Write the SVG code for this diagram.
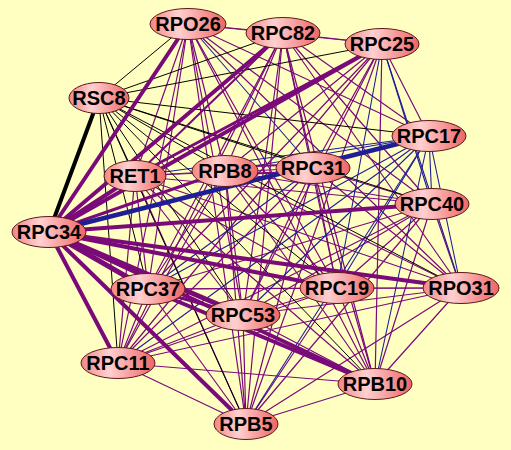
<svg xmlns="http://www.w3.org/2000/svg" width="511" height="450" viewBox="0 0 511 450">
<defs>
<linearGradient id="ng" x1="0" y1="0" x2="1" y2="0">
<stop offset="0" stop-color="#F28686"/>
<stop offset="0.38" stop-color="#FFD0D0"/>
<stop offset="1" stop-color="#F06464"/>
</linearGradient>
<style>
.p{stroke:#7A0A7A;stroke-width:1.2}
.b{stroke:#1E1E96;stroke-width:1.1}
.k{stroke:#000;stroke-width:1}
.n ellipse{fill:url(#ng);stroke:#5A1A1A;stroke-width:1}
.n text{font-family:"Liberation Sans",Arial,sans-serif;font-weight:bold;font-size:20px;text-anchor:middle;fill:#000}
</style>
</defs>
<rect width="511" height="450" fill="#FFFFC2"/>
<g id="connectors" fill="none" stroke-linecap="round">
<line class="p" x1="188" y1="24" x2="283" y2="33"/>
<line class="p" x1="188" y1="24" x2="382" y2="44"/>
<line class="p" x1="188" y1="24" x2="135" y2="176"/>
<line class="p" x1="188" y1="24" x2="225" y2="171"/>
<line class="p" x1="188" y1="24" x2="432" y2="204"/>
<line class="p" x1="188" y1="24" x2="148" y2="289"/>
<line class="p" x1="188" y1="24" x2="337" y2="288"/>
<line class="p" x1="188" y1="24" x2="461" y2="288"/>
<line class="p" x1="188" y1="24" x2="243" y2="315"/>
<line class="p" x1="188" y1="24" x2="118" y2="363"/>
<line class="p" x1="188" y1="24" x2="375" y2="384"/>
<line class="p" x1="188" y1="24" x2="246" y2="424"/>
<line class="p" x1="283" y1="33" x2="382" y2="44"/>
<line class="p" x1="283" y1="33" x2="225" y2="171"/>
<line class="p" x1="283" y1="33" x2="313" y2="168"/>
<line class="p" x1="283" y1="33" x2="432" y2="204"/>
<line class="p" x1="283" y1="33" x2="148" y2="289"/>
<line class="p" x1="283" y1="33" x2="337" y2="288"/>
<line class="p" x1="283" y1="33" x2="461" y2="288"/>
<line class="p" x1="283" y1="33" x2="243" y2="315"/>
<line class="p" x1="283" y1="33" x2="118" y2="363"/>
<line class="p" x1="283" y1="33" x2="375" y2="384"/>
<line class="p" x1="283" y1="33" x2="246" y2="424"/>
<line class="p" x1="382" y1="44" x2="225" y2="171"/>
<line class="p" x1="382" y1="44" x2="313" y2="168"/>
<line class="p" x1="382" y1="44" x2="148" y2="289"/>
<line class="p" x1="382" y1="44" x2="243" y2="315"/>
<line class="p" x1="382" y1="44" x2="118" y2="363"/>
<line class="p" x1="382" y1="44" x2="375" y2="384"/>
<line class="p" x1="382" y1="44" x2="246" y2="424"/>
<line class="p" x1="135" y1="176" x2="225" y2="171"/>
<line class="p" x1="135" y1="176" x2="313" y2="168"/>
<line class="p" x1="135" y1="176" x2="432" y2="204"/>
<line class="p" x1="135" y1="176" x2="148" y2="289"/>
<line class="p" x1="135" y1="176" x2="337" y2="288"/>
<line class="p" x1="135" y1="176" x2="461" y2="288"/>
<line class="p" x1="135" y1="176" x2="243" y2="315"/>
<line class="p" x1="135" y1="176" x2="118" y2="363"/>
<line class="p" x1="135" y1="176" x2="375" y2="384"/>
<line class="p" x1="135" y1="176" x2="246" y2="424"/>
<line class="p" x1="225" y1="171" x2="432" y2="204"/>
<line class="p" x1="225" y1="171" x2="148" y2="289"/>
<line class="p" x1="225" y1="171" x2="337" y2="288"/>
<line class="p" x1="225" y1="171" x2="461" y2="288"/>
<line class="p" x1="225" y1="171" x2="243" y2="315"/>
<line class="p" x1="225" y1="171" x2="118" y2="363"/>
<line class="p" x1="225" y1="171" x2="375" y2="384"/>
<line class="p" x1="225" y1="171" x2="246" y2="424"/>
<line class="p" x1="313" y1="168" x2="432" y2="204"/>
<line class="p" x1="313" y1="168" x2="337" y2="288"/>
<line class="p" x1="313" y1="168" x2="461" y2="288"/>
<line class="p" x1="313" y1="168" x2="243" y2="315"/>
<line class="p" x1="313" y1="168" x2="118" y2="363"/>
<line class="p" x1="313" y1="168" x2="375" y2="384"/>
<line class="p" x1="313" y1="168" x2="246" y2="424"/>
<line class="p" x1="432" y1="204" x2="148" y2="289"/>
<line class="p" x1="432" y1="204" x2="337" y2="288"/>
<line class="p" x1="432" y1="204" x2="461" y2="288"/>
<line class="p" x1="432" y1="204" x2="243" y2="315"/>
<line class="p" x1="432" y1="204" x2="118" y2="363"/>
<line class="p" x1="432" y1="204" x2="375" y2="384"/>
<line class="p" x1="432" y1="204" x2="246" y2="424"/>
<line class="p" x1="148" y1="289" x2="337" y2="288"/>
<line class="p" x1="148" y1="289" x2="461" y2="288"/>
<line class="p" x1="148" y1="289" x2="118" y2="363"/>
<line class="p" x1="148" y1="289" x2="246" y2="424"/>
<line class="p" x1="337" y1="288" x2="461" y2="288"/>
<line class="p" x1="337" y1="288" x2="243" y2="315"/>
<line class="p" x1="337" y1="288" x2="118" y2="363"/>
<line class="p" x1="337" y1="288" x2="375" y2="384"/>
<line class="p" x1="337" y1="288" x2="246" y2="424"/>
<line class="p" x1="461" y1="288" x2="243" y2="315"/>
<line class="p" x1="461" y1="288" x2="118" y2="363"/>
<line class="p" x1="461" y1="288" x2="375" y2="384"/>
<line class="p" x1="461" y1="288" x2="246" y2="424"/>
<line class="p" x1="243" y1="315" x2="118" y2="363"/>
<line class="p" x1="243" y1="315" x2="375" y2="384"/>
<line class="p" x1="243" y1="315" x2="246" y2="424"/>
<line class="p" x1="118" y1="363" x2="375" y2="384"/>
<line class="p" x1="118" y1="363" x2="246" y2="424"/>
<line class="p" x1="375" y1="384" x2="246" y2="424"/>
<line class="p" x1="429" y1="136" x2="188" y2="24"/>
<line class="p" x1="429" y1="136" x2="283" y2="33"/>
<line class="p" x1="429" y1="136" x2="382" y2="44"/>
<line class="b" x1="188" y1="24" x2="313" y2="168"/>
<line class="b" x1="382" y1="44" x2="432" y2="204"/>
<line class="b" x1="382" y1="44" x2="337" y2="288"/>
<line class="b" x1="382" y1="44" x2="461" y2="288"/>
<line class="b" x1="148" y1="289" x2="313" y2="168"/>
<line class="b" x1="429" y1="136" x2="135" y2="176"/>
<line class="b" x1="429" y1="136" x2="225" y2="171"/>
<line class="b" x1="429" y1="136" x2="432" y2="204"/>
<line class="b" x1="429" y1="136" x2="148" y2="289"/>
<line class="b" x1="429" y1="136" x2="337" y2="288"/>
<line class="b" x1="429" y1="136" x2="461" y2="288"/>
<line class="b" x1="429" y1="136" x2="243" y2="315"/>
<line class="b" x1="429" y1="136" x2="118" y2="363"/>
<line class="b" x1="429" y1="136" x2="375" y2="384"/>
<line class="b" x1="429" y1="136" x2="246" y2="424"/>
<line class="k" x1="99" y1="98" x2="188" y2="24"/>
<line class="k" x1="99" y1="98" x2="283" y2="33"/>
<line class="k" x1="99" y1="98" x2="382" y2="44"/>
<line class="k" x1="99" y1="98" x2="429" y2="136"/>
<line class="k" x1="99" y1="98" x2="135" y2="176"/>
<line class="k" x1="99" y1="98" x2="225" y2="171"/>
<line class="k" x1="99" y1="98" x2="313" y2="168"/>
<line class="k" x1="99" y1="98" x2="432" y2="204"/>
<line class="k" x1="99" y1="98" x2="148" y2="289"/>
<line class="k" x1="99" y1="98" x2="337" y2="288"/>
<line class="k" x1="99" y1="98" x2="461" y2="288"/>
<line class="k" x1="99" y1="98" x2="243" y2="315"/>
<line class="k" x1="99" y1="98" x2="118" y2="363"/>
<line class="k" x1="99" y1="98" x2="375" y2="384"/>
<line class="k" x1="99" y1="98" x2="246" y2="424"/>
<line class="p" style="stroke-width:2" x1="283" y1="33" x2="135" y2="176"/>
<line class="p" style="stroke-width:3" x1="382" y1="44" x2="135" y2="176"/>
<line class="p" style="stroke-width:2.2" x1="225" y1="167" x2="313" y2="164"/>
<line class="p" style="stroke-width:2.2" x1="225" y1="174" x2="313" y2="172"/>
<line class="p" style="stroke-width:3" x1="148" y1="289" x2="243" y2="315"/>
<line class="p" style="stroke-width:4" x1="148" y1="289" x2="375" y2="384"/>
<line class="p" style="stroke-width:4" x1="49" y1="232" x2="188" y2="24"/>
<line class="p" style="stroke-width:4" x1="49" y1="232" x2="283" y2="33"/>
<line class="p" style="stroke-width:4" x1="49" y1="232" x2="382" y2="44"/>
<line class="p" style="stroke-width:4" x1="49" y1="232" x2="135" y2="176"/>
<line class="p" style="stroke-width:3" x1="49" y1="232" x2="225" y2="171"/>
<line class="p" style="stroke-width:4" x1="49" y1="232" x2="432" y2="204"/>
<line class="p" style="stroke-width:5" x1="49" y1="232" x2="148" y2="289"/>
<line class="p" style="stroke-width:4" x1="49" y1="232" x2="337" y2="288"/>
<line class="p" style="stroke-width:4" x1="49" y1="232" x2="461" y2="288"/>
<line class="p" style="stroke-width:5" x1="49" y1="232" x2="243" y2="315"/>
<line class="p" style="stroke-width:4" x1="49" y1="232" x2="118" y2="363"/>
<line class="p" style="stroke-width:4" x1="49" y1="232" x2="375" y2="384"/>
<line class="p" style="stroke-width:4" x1="49" y1="232" x2="246" y2="424"/>
<line class="b" style="stroke-width:4.5" x1="49" y1="232" x2="429" y2="136"/>
<line class="k" style="stroke-width:4" x1="99" y1="98" x2="49" y2="232"/>
</g>
<g id="RPO26" class="n"><ellipse cx="188" cy="24" rx="38" ry="15.5"/><text x="188" y="31">RPO26</text></g>
<g id="RPC82" class="n"><ellipse cx="283" cy="33" rx="37" ry="15.5"/><text x="283" y="40">RPC82</text></g>
<g id="RPC25" class="n"><ellipse cx="382" cy="44" rx="37" ry="15.5"/><text x="382" y="51">RPC25</text></g>
<g id="RSC8" class="n"><ellipse cx="99" cy="98" rx="30" ry="15.5"/><text x="99" y="105">RSC8</text></g>
<g id="RPC17" class="n"><ellipse cx="429" cy="136" rx="37" ry="15.5"/><text x="429" y="143">RPC17</text></g>
<g id="RET1" class="n"><ellipse cx="135" cy="176" rx="31" ry="15.5"/><text x="135" y="183">RET1</text></g>
<g id="RPB8" class="n"><ellipse cx="225" cy="171" rx="33" ry="15.5"/><text x="225" y="178">RPB8</text></g>
<g id="RPC31" class="n"><ellipse cx="313" cy="168" rx="37" ry="15.5"/><text x="313" y="175">RPC31</text></g>
<g id="RPC40" class="n"><ellipse cx="432" cy="204" rx="37" ry="15.5"/><text x="432" y="211">RPC40</text></g>
<g id="RPC34" class="n"><ellipse cx="49" cy="232" rx="37" ry="15.5"/><text x="49" y="239">RPC34</text></g>
<g id="RPC37" class="n"><ellipse cx="148" cy="289" rx="37" ry="15.5"/><text x="148" y="296">RPC37</text></g>
<g id="RPC19" class="n"><ellipse cx="337" cy="288" rx="37" ry="15.5"/><text x="337" y="295">RPC19</text></g>
<g id="RPO31" class="n"><ellipse cx="461" cy="288" rx="38" ry="15.5"/><text x="461" y="295">RPO31</text></g>
<g id="RPC53" class="n"><ellipse cx="243" cy="315" rx="37" ry="15.5"/><text x="243" y="322">RPC53</text></g>
<g id="RPC11" class="n"><ellipse cx="118" cy="363" rx="37" ry="15.5"/><text x="118" y="370">RPC11</text></g>
<g id="RPB10" class="n"><ellipse cx="375" cy="384" rx="37" ry="15.5"/><text x="375" y="391">RPB10</text></g>
<g id="RPB5" class="n"><ellipse cx="246" cy="424" rx="32" ry="15.5"/><text x="246" y="431">RPB5</text></g>
</svg>
